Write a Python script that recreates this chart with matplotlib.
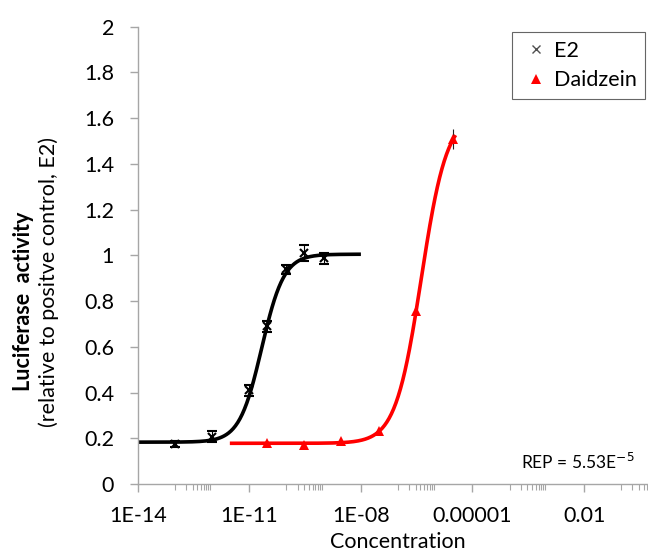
import numpy as np
import matplotlib
matplotlib.use("Agg")
import matplotlib.pyplot as plt
from matplotlib.lines import Line2D
from matplotlib.ticker import FixedLocator, NullFormatter

plt.rcParams['font.family'] = ['Lato', 'DejaVu Sans']

# E2 (positive control)
e2_conc = [1e-13, 1e-12, 1e-11, 3e-11, 1e-10, 3e-10, 1e-9]
e2_resp = [0.175, 0.207, 0.41, 0.69, 0.94, 1.01, 0.987]
e2_err = [0.012, 0.025, 0.025, 0.025, 0.02, 0.035, 0.025]

# Daidzein
dz_conc = [3e-11, 3e-10, 3e-9, 3e-8, 3e-7, 3e-6]
dz_resp = [0.18, 0.17, 0.19, 0.23, 0.755, 1.51]
dz_err = [0.01, 0.008, 0.01, 0.012, 0.015, 0.044]

# Hill fit parameters (bottom, top, EC50, slope) and fitted range
e2_fit = (0.183, 1.005, 2.15e-11, 1.45)
e2_range = (1e-14, 1e-8)
dz_fit = (0.178, 1.62, 4.2e-7, 1.255)
dz_range = (3e-12, 3.5e-6)

major_ticks = [1e-14, 1e-11, 1e-8, 1e-5, 1e-2]
major_labels = ['1E-14', '1E-11', '1E-08', '0.00001', '0.01']
y_ticks = [0, 0.2, 0.4, 0.6, 0.8, 1, 1.2, 1.4, 1.6, 1.8, 2]
y_labels = ['0', '0.2', '0.4', '0.6', '0.8', '1', '1.2', '1.4', '1.6', '1.8', '2']


def hill(x, p):
    b, t, ec, h = p
    return b + (t - b) / (1 + (ec / x) ** h)


fig = plt.figure(figsize=(6.48, 5.52), dpi=100)
ax = fig.add_axes([0.2125, 0.1232, 0.8037, 0.8284])

axis_grey = '#a6a6a6'
red = '#ff0000'

# fitted curves
xs = np.logspace(np.log10(e2_range[0]), np.log10(e2_range[1]), 300)
ax.plot(xs, hill(xs, e2_fit), color='black', lw=2.6, zorder=2, solid_capstyle='butt')
xs = np.logspace(np.log10(dz_range[0]), np.log10(dz_range[1]), 300)
ax.plot(xs, hill(xs, dz_fit), color=red, lw=2.6, zorder=2, solid_capstyle='butt')

# data points with error bars
ax.errorbar(e2_conc, e2_resp, yerr=e2_err, fmt='x', color='black', ms=5.5, mew=1.5,
            ecolor='black', elinewidth=0.8, capsize=3.5, capthick=0.8, zorder=3)
ax.errorbar(dz_conc, dz_resp, yerr=dz_err, fmt='^', color=red, ms=7, mew=0,
            ecolor='#222222', elinewidth=0.8, capsize=3.5, capthick=0.8, zorder=3)

ax.set_xscale('log')
ax.set_xlim(1e-14, 1)
ax.set_ylim(0, 2)

ax.xaxis.set_major_locator(FixedLocator(major_ticks))
ax.set_xticklabels(major_labels)
minor = [c * m * 10 for m in major_ticks + [1] for c in range(1, 10)]
ax.xaxis.set_minor_locator(FixedLocator(minor))
ax.xaxis.set_minor_formatter(NullFormatter())
ax.set_yticks(y_ticks)
ax.set_yticklabels(y_labels)

for s in ['top', 'right']:
    ax.spines[s].set_visible(False)
for s in ['left', 'bottom']:
    ax.spines[s].set_color(axis_grey)
    ax.spines[s].set_linewidth(1.0)

ax.tick_params(axis='x', which='major', direction='out', length=6, width=1,
               color=axis_grey, labelsize=15.5, pad=10, labelcolor='black')
ax.tick_params(axis='x', which='minor', direction='out', length=4, width=0.8,
               color=axis_grey)
ax.tick_params(axis='y', which='major', direction='out', length=6, width=1,
               color=axis_grey, labelsize=15.5, pad=11, labelcolor='black')

ax.set_xlabel('Concentration', fontsize=15.5, labelpad=4)

# two-line y label
fig.text(0.036, 0.455, 'Luciferase  activity', rotation=90, fontsize=15.5,
         fontweight='bold', ha='center', va='center')
fig.text(0.075, 0.489, '(relative to positve control, E2)', rotation=90,
         fontsize=15.5, ha='center', va='center')

ax.text(0.98, 0.163, 'REP = 5.53E$^{-5}$', transform=fig.transFigure,
        ha='right', va='center', fontsize=12.5)

handles = [Line2D([], [], ls='', marker='x', color='#505050', ms=6, mew=1.0),
           Line2D([], [], ls='', marker='^', color=red, ms=7, mew=0)]
leg = ax.legend(handles, ['E2', 'Daidzein'], loc='upper left',
                bbox_to_anchor=(0.790, 0.942), bbox_transform=fig.transFigure,
                fontsize=15.5, frameon=True, fancybox=False, edgecolor='#404040',
                labelspacing=0.45, handletextpad=0.15, borderpad=0.4,
                handlelength=1.4, borderaxespad=0)
leg.get_frame().set_linewidth(0.8)

fig.savefig('out.png', dpi=100)
